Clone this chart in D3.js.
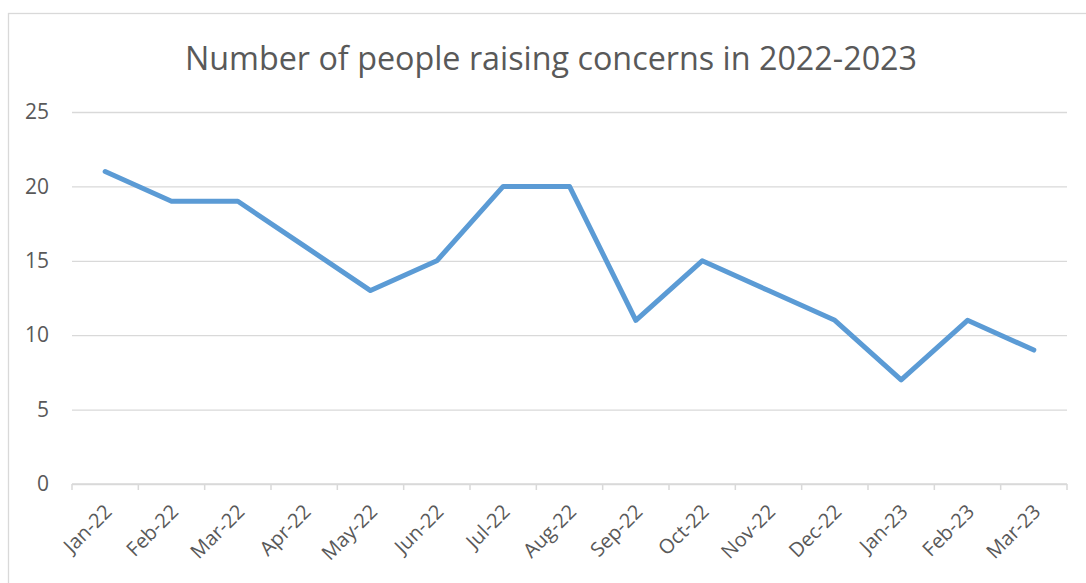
<!DOCTYPE html>
<html>
<head>
<meta charset="utf-8">
<script src="https://cdn.jsdelivr.net/npm/d3@7"></script>
<style>
  html, body { margin: 0; padding: 0; background: #ffffff; }
  svg { display: block; }
  text { font-family: "Open Sans", "Noto Sans", sans-serif; fill: #595959; }
</style>
</head>
<body>
<svg id="chart" width="1086" height="583"></svg>
<script>
// Monthly counts of people raising concerns, Jan 2022 – Mar 2023
const months = ["Jan-22", "Feb-22", "Mar-22", "Apr-22", "May-22", "Jun-22", "Jul-22",
                "Aug-22", "Sep-22", "Oct-22", "Nov-22", "Dec-22", "Jan-23", "Feb-23", "Mar-23"];
const concerns = [21, 19, 19, 16, 13, 15, 20, 20, 11, 15, 13, 11, 7, 11, 9];
const yTicks = [0, 5, 10, 15, 20, 25];
const title = "Number of people raising concerns in 2022-2023";

const svg = d3.select("#chart");
const W = 1086, H = 583;
const plot = { left: 72, right: 1067, top: 112, bottom: 484 };
const labelSize = 21;
const catLabelSize = 20;

// outer chart frame (extends past the right/bottom edge)
svg.append("rect")
  .attr("x", 8.5).attr("y", 13.5)
  .attr("width", W + 20).attr("height", H + 20)
  .attr("fill", "#ffffff").attr("stroke", "#d9d9d9").attr("stroke-width", 1.3);

const x = d3.scaleBand().domain(months).range([plot.left, plot.right]).padding(0);
const y = d3.scaleLinear().domain([0, 25]).range([plot.bottom, plot.top]);

// horizontal gridlines and value labels
const yAxis = d3.axisLeft(y).tickValues(yTicks).tickSize(-(plot.right - plot.left)).tickPadding(23);
const gy = svg.append("g").attr("transform", `translate(${plot.left},0)`).call(yAxis)
  .attr("font-size", labelSize).attr("font-family", null);
gy.select(".domain").remove();
gy.selectAll(".tick line").attr("stroke", "#d9d9d9").attr("stroke-width", 1.3);
gy.selectAll(".tick text").attr("fill", "#595959");

// category axis: baseline with tick marks at band edges
const gx = svg.append("g");
gx.append("line")
  .attr("x1", plot.left).attr("x2", plot.right)
  .attr("y1", y(0)).attr("y2", y(0))
  .attr("stroke", "#d9d9d9").attr("stroke-width", 1.5);
const edges = months.map(m => x(m)).concat([x(months[months.length - 1]) + x.bandwidth()]);
gx.selectAll("line.tk").data(edges).join("line").attr("class", "tk")
  .attr("x1", d => d).attr("x2", d => d)
  .attr("y1", y(0)).attr("y2", y(0) + 6)
  .attr("stroke", "#d9d9d9").attr("stroke-width", 1.5);
gx.selectAll("text").data(months).join("text")
  .attr("transform", d => `translate(${x(d) + x.bandwidth() / 2 + 8},${y(0) + 29}) rotate(-45)`)
  .attr("text-anchor", "end")
  .attr("font-size", catLabelSize)
  .text(d => d);

// data line
const line = d3.line()
  .x((d, i) => x(months[i]) + x.bandwidth() / 2)
  .y(d => y(d));
svg.append("path")
  .datum(concerns)
  .attr("d", line)
  .attr("fill", "none")
  .attr("stroke", "#5b9bd5")
  .attr("stroke-width", 5)
  .attr("stroke-linejoin", "round")
  .attr("stroke-linecap", "round");

// title
svg.append("text")
  .attr("x", 551).attr("y", 70)
  .attr("text-anchor", "middle")
  .attr("font-size", 32.3)
  .text(title);
</script>
</body>
</html>
